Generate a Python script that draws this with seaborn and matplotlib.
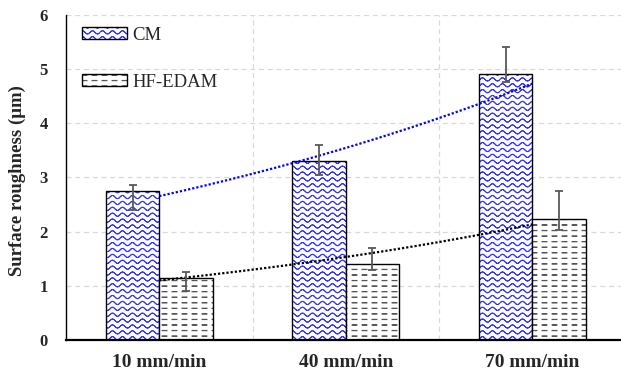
import warnings
warnings.filterwarnings("ignore")
import numpy as np
import pandas as pd
import matplotlib
matplotlib.use("Agg")
import matplotlib.pyplot as plt
import matplotlib.hatch as mhatch
from matplotlib.path import Path
from matplotlib.patches import Patch
from matplotlib.colors import to_rgba
import seaborn as sns

# ---------------- data ----------------
categories = ["10 mm/min", "40 mm/min", "70 mm/min"]
series = ["CM", "HF-EDAM"]
cm_values = [2.75, 3.30, 4.90]
cm_err_low = [2.40, 3.05, 4.75]
cm_err_high = [2.85, 3.59, 5.40]
hf_values = [1.15, 1.40, 2.23]
hf_err_low = [0.91, 1.29, 2.02]
hf_err_high = [1.26, 1.70, 2.74]
y_ticks = [0, 1, 2, 3, 4, 5, 6]


# ---------------- custom hatches ----------------
class WaveHatch(mhatch.HatchPatternBase):
    """Wavy lines, drawn as separate short segments (zero fill area)."""
    def __init__(self, hatch, density):
        self.rows = 17 if "~" in hatch else 0
        self.periods = 10
        self.nseg = self.periods * 10
        self.num_vertices = self.rows * self.nseg * 2

    def set_vertices_and_codes(self, vertices, codes):
        x = np.linspace(0.0, 1.0, self.nseg + 1)
        i = 0
        for r in range(self.rows):
            y0 = (r + 0.5) / self.rows
            y = y0 + 0.016 * np.sin(2 * np.pi * self.periods * x)
            for k in range(self.nseg):
                vertices[i] = (x[k], y[k])
                vertices[i + 1] = (x[k + 1], y[k + 1])
                codes[i] = Path.MOVETO
                codes[i + 1] = Path.LINETO
                i += 2


class DashHatch(mhatch.HatchPatternBase):
    def __init__(self, hatch, density):
        self.rows = 18 if "_" in hatch else 0
        self.periods = 10
        self.num_vertices = self.rows * self.periods * 5

    def set_vertices_and_codes(self, vertices, codes):
        i = 0
        h = 0.0015
        for r in range(self.rows):
            y0 = (r + 0.5) / self.rows
            for k in range(self.periods):
                x0 = (k + 0.2) / self.periods
                x1 = x0 + 0.5 / self.periods
                vertices[i:i + 5] = [(x0, y0 - h), (x1, y0 - h), (x1, y0 + h),
                                     (x0, y0 + h), (x0, y0 - h)]
                codes[i] = Path.MOVETO
                codes[i + 1:i + 4] = Path.LINETO
                codes[i + 4] = Path.CLOSEPOLY
                i += 5


mhatch._hatch_types.append(WaveHatch)
mhatch._hatch_types.append(DashHatch)

# ---------------- style ----------------
sns.set_style("white")
plt.rcParams["font.family"] = ["Liberation Serif", "DejaVu Serif"]
plt.rcParams["hatch.linewidth"] = 0.7

fig = plt.figure(figsize=(6.21, 3.74), dpi=100)
ax = fig.add_axes([66 / 621, 34 / 374, 559.5 / 621, 325.3 / 374])

df = pd.DataFrame({
    "speed": categories * 2,
    "series": [series[0]] * 3 + [series[1]] * 3,
    "value": cm_values + hf_values,
})

sns.barplot(data=df, x="speed", y="value", hue="series", order=categories,
            hue_order=series, width=0.572, palette=["white", "white"],
            edgecolor="black", linewidth=1.0, legend=False, ax=ax, zorder=2)

hatches = ["~~", "__"]
hatch_colors = ["#3535ff", "#555555"]
for cont, h, hc in zip(ax.containers, hatches, hatch_colors):
    for p in cont.patches:
        p.set_hatch(h)
        p.set_edgecolor("black")
        p._hatch_color = to_rgba(hc)

# error bars
for cont, vals, lo, hi in zip(ax.containers, [cm_values, hf_values],
                              [cm_err_low, hf_err_low], [cm_err_high, hf_err_high]):
    xs = [p.get_x() + p.get_width() / 2 for p in cont.patches]
    v = np.array(vals)
    yerr = [v - np.array(lo), np.array(hi) - v]
    ax.errorbar(xs, v, yerr=yerr, fmt="none", ecolor="#595959", elinewidth=1.3,
                capsize=2.9, capthick=1.3, zorder=5)

# exponential trendlines
xpos = np.arange(len(categories))
xx = np.linspace(xpos[0], xpos[-1], 80)
for vals, col in zip([cm_values, hf_values], ["#0000ff", "black"]):
    b, a = np.polyfit(xpos, np.log(vals), 1)
    ax.plot(xx, np.exp(a + b * xx), color=col, lw=1.6,
            linestyle=(0, (1, 0.9)), zorder=4)

# axes
ax.set_xlim(-0.5, 2.5)
ax.set_ylim(0, 6)
ax.set_yticks(y_ticks)
ax.set_yticklabels([str(t) for t in y_ticks], fontweight="bold", fontsize=12)
ax.set_xticks(xpos)
ax.set_xticklabels(categories, fontweight="bold", fontsize=14)
ax.set_xticks([0.5, 1.5], minor=True)
ax.tick_params(axis="y", which="both", length=0, pad=13)
ax.tick_params(axis="x", which="both", length=0, pad=10)
ax.grid(True, axis="y", which="major", color="#d9d9d9", linestyle=(0, (4, 3)), lw=0.9)
ax.grid(True, axis="x", which="minor", color="#d9d9d9", linestyle=(0, (4, 3)), lw=0.9)
ax.grid(False, axis="x", which="major")
ax.set_axisbelow(True)
ax.set_xlabel("")
ax.set_ylabel("Surface roughness (μm)", fontweight="bold", fontsize=13.5)
ax.yaxis.set_label_coords(-0.0715, 0.49)

for s in ["top", "right"]:
    ax.spines[s].set_visible(False)
ax.spines["left"].set_color("black")
ax.spines["left"].set_linewidth(1.0)
ax.spines["bottom"].set_color("black")
ax.spines["bottom"].set_linewidth(1.6)
ax.spines["bottom"].set_zorder(6)

# legend
handles = []
for h, hc in zip(hatches, hatch_colors):
    hp = Patch(facecolor="white", edgecolor="black", linewidth=1.0, hatch=h)
    hp._hatch_color = to_rgba(hc)
    handles.append(hp)
leg = ax.legend(handles, series, loc="upper left", frameon=False, fontsize=13.5,
                bbox_to_anchor=(82 / 621, 1 - 27 / 374), bbox_transform=fig.transFigure,
                borderaxespad=0, borderpad=0, handlelength=2.4, handleheight=0.6,
                handletextpad=0.3, labelspacing=1.6)
for lh, hc in zip(leg.legend_handles, hatch_colors):
    lh._hatch_color = to_rgba(hc)

fig.savefig("out.png", dpi=100)
